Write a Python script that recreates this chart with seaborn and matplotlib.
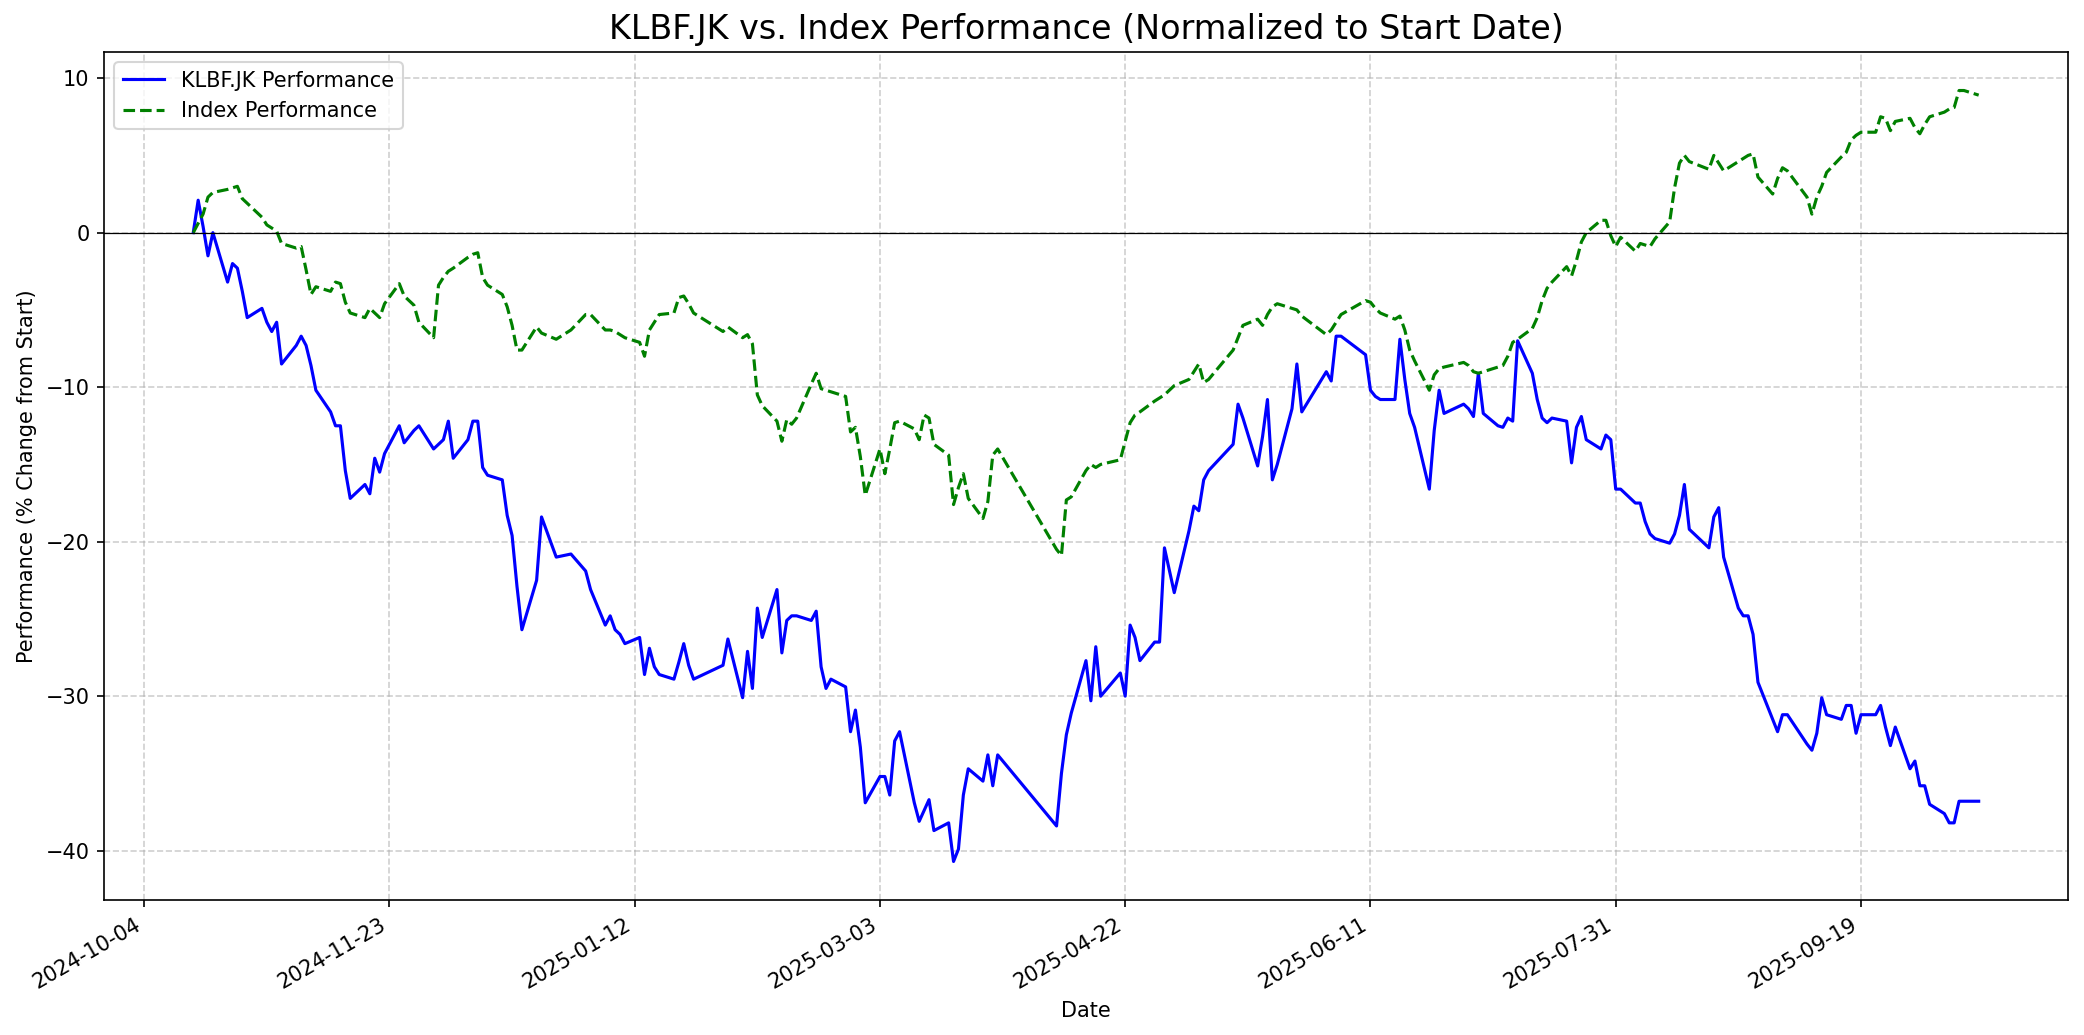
import pandas as pd
import numpy as np
import matplotlib
matplotlib.use('Agg')
import matplotlib.pyplot as plt
import matplotlib.dates as mdates
import seaborn as sns

# trading days
dates = [
    '2024-10-14', '2024-10-15', '2024-10-16', '2024-10-17', '2024-10-18',
    '2024-10-21', '2024-10-22', '2024-10-23', '2024-10-24', '2024-10-25',
    '2024-10-28', '2024-10-29', '2024-10-30', '2024-10-31', '2024-11-01',
    '2024-11-04', '2024-11-05', '2024-11-06', '2024-11-07', '2024-11-08',
    '2024-11-11', '2024-11-12', '2024-11-13', '2024-11-14', '2024-11-15',
    '2024-11-18', '2024-11-19', '2024-11-20', '2024-11-21', '2024-11-22',
    '2024-11-25', '2024-11-26', '2024-11-28', '2024-11-29', '2024-12-02',
    '2024-12-03', '2024-12-04', '2024-12-05', '2024-12-06', '2024-12-09',
    '2024-12-10', '2024-12-11', '2024-12-12', '2024-12-13', '2024-12-16',
    '2024-12-17', '2024-12-18', '2024-12-19', '2024-12-20', '2024-12-23',
    '2024-12-24', '2024-12-27', '2024-12-30', '2025-01-02', '2025-01-03',
    '2025-01-06', '2025-01-07', '2025-01-08', '2025-01-09', '2025-01-10',
    '2025-01-13', '2025-01-14', '2025-01-15', '2025-01-16', '2025-01-17',
    '2025-01-20', '2025-01-21', '2025-01-22', '2025-01-23', '2025-01-24',
    '2025-01-30', '2025-01-31', '2025-02-03', '2025-02-04', '2025-02-05',
    '2025-02-06', '2025-02-07', '2025-02-10', '2025-02-11', '2025-02-12',
    '2025-02-13', '2025-02-14', '2025-02-17', '2025-02-18', '2025-02-19',
    '2025-02-20', '2025-02-21', '2025-02-24', '2025-02-25', '2025-02-26',
    '2025-02-27', '2025-02-28', '2025-03-03', '2025-03-04', '2025-03-05',
    '2025-03-06', '2025-03-07', '2025-03-10', '2025-03-11', '2025-03-12',
    '2025-03-13', '2025-03-14', '2025-03-17', '2025-03-18', '2025-03-19',
    '2025-03-20', '2025-03-21', '2025-03-24', '2025-03-25', '2025-03-26',
    '2025-03-27', '2025-04-08', '2025-04-09', '2025-04-10', '2025-04-11',
    '2025-04-14', '2025-04-15', '2025-04-16', '2025-04-17', '2025-04-21',
    '2025-04-22', '2025-04-23', '2025-04-24', '2025-04-25', '2025-04-28',
    '2025-04-29', '2025-04-30', '2025-05-02', '2025-05-05', '2025-05-06',
    '2025-05-07', '2025-05-08', '2025-05-09', '2025-05-14', '2025-05-15',
    '2025-05-16', '2025-05-19', '2025-05-20', '2025-05-21', '2025-05-22',
    '2025-05-23', '2025-05-26', '2025-05-27', '2025-05-28', '2025-06-02',
    '2025-06-03', '2025-06-04', '2025-06-05', '2025-06-10', '2025-06-11',
    '2025-06-12', '2025-06-13', '2025-06-16', '2025-06-17', '2025-06-18',
    '2025-06-19', '2025-06-20', '2025-06-23', '2025-06-24', '2025-06-25',
    '2025-06-26', '2025-06-30', '2025-07-01', '2025-07-02', '2025-07-03',
    '2025-07-04', '2025-07-07', '2025-07-08', '2025-07-09', '2025-07-10',
    '2025-07-11', '2025-07-14', '2025-07-15', '2025-07-16', '2025-07-17',
    '2025-07-18', '2025-07-21', '2025-07-22', '2025-07-23', '2025-07-24',
    '2025-07-25', '2025-07-28', '2025-07-29', '2025-07-30', '2025-07-31',
    '2025-08-01', '2025-08-04', '2025-08-05', '2025-08-06', '2025-08-07',
    '2025-08-08', '2025-08-11', '2025-08-12', '2025-08-13', '2025-08-14',
    '2025-08-15', '2025-08-19', '2025-08-20', '2025-08-21', '2025-08-22',
    '2025-08-25', '2025-08-26', '2025-08-27', '2025-08-28', '2025-08-29',
    '2025-09-01', '2025-09-02', '2025-09-03', '2025-09-04', '2025-09-08',
    '2025-09-09', '2025-09-10', '2025-09-11', '2025-09-12', '2025-09-15',
    '2025-09-16', '2025-09-17', '2025-09-18', '2025-09-19', '2025-09-22',
    '2025-09-23', '2025-09-24', '2025-09-25', '2025-09-26', '2025-09-29',
    '2025-09-30', '2025-10-01', '2025-10-02', '2025-10-03', '2025-10-06',
    '2025-10-07', '2025-10-08', '2025-10-09', '2025-10-10', '2025-10-13',
]

# KLBF.JK % change from start
klbf_perf = [
    0.0, 2.1, 0.4, -1.5, 0.0,
    -3.2, -2.0, -2.3, -3.8, -5.5,
    -4.9, -5.8, -6.4, -5.8, -8.5,
    -7.3, -6.7, -7.3, -8.6, -10.2,
    -11.6, -12.5, -12.5, -15.4, -17.2,
    -16.3, -16.9, -14.6, -15.5, -14.3,
    -12.5, -13.6, -12.8, -12.5, -14.0,
    -13.7, -13.4, -12.2, -14.6, -13.4,
    -12.2, -12.2, -15.2, -15.7, -16.0,
    -18.3, -19.6, -22.9, -25.7, -22.5,
    -18.4, -21.0, -20.8, -21.9, -23.1,
    -25.4, -24.8, -25.7, -26.0, -26.6,
    -26.2, -28.6, -26.9, -28.1, -28.6,
    -28.9, -27.8, -26.6, -28.0, -28.9,
    -28.0, -26.3, -30.1, -27.1, -29.5,
    -24.3, -26.2, -23.1, -27.2, -25.1,
    -24.8, -24.8, -25.1, -24.5, -28.1,
    -29.5, -28.9, -29.4, -32.3, -30.9,
    -33.3, -36.9, -35.2, -35.2, -36.4,
    -32.9, -32.3, -36.9, -38.1, -37.4,
    -36.7, -38.7, -38.2, -40.7, -39.9,
    -36.4, -34.7, -35.5, -33.8, -35.8,
    -33.8, -38.4, -35.0, -32.5, -31.1,
    -27.7, -30.3, -26.8, -30.0, -28.5,
    -30.0, -25.4, -26.2, -27.7, -26.5,
    -26.5, -20.4, -23.3, -19.3, -17.7,
    -18.0, -16.0, -15.4, -13.7, -11.1,
    -12.0, -15.1, -13.2, -10.8, -16.0,
    -15.0, -11.4, -8.5, -11.6, -9.0,
    -9.6, -6.7, -6.7, -7.9, -10.2,
    -10.6, -10.8, -10.8, -6.9, -9.5,
    -11.7, -12.6, -16.6, -12.8, -10.2,
    -11.7, -11.1, -11.4, -11.9, -9.1,
    -11.7, -12.5, -12.6, -12.0, -12.2,
    -7.0, -9.1, -10.8, -12.0, -12.3,
    -12.0, -12.2, -14.9, -12.6, -11.9,
    -13.4, -14.0, -13.1, -13.4, -16.6,
    -16.6, -17.5, -17.5, -18.7, -19.5,
    -19.8, -20.1, -19.5, -18.3, -16.3,
    -19.2, -20.4, -18.4, -17.8, -21.0,
    -24.3, -24.8, -24.8, -26.0, -29.1,
    -31.5, -32.3, -31.2, -31.2, -33.1,
    -33.5, -32.4, -30.1, -31.2, -31.5,
    -30.6, -30.6, -32.4, -31.2, -31.2,
    -30.6, -32.0, -33.2, -32.0, -34.7,
    -34.2, -35.8, -35.8, -37.0, -37.6,
    -38.2, -38.2, -36.8, -36.8, -36.8,
]

# index % change from start
index_perf = [
    0.0, 0.6, 1.2, 2.3, 2.6,
    2.8, 2.9, 3.0, 2.2, 1.9,
    1.0, 0.5, 0.3, 0.1, -0.7,
    -1.0, -0.9, -2.4, -4.0, -3.5,
    -3.8, -3.2, -3.3, -4.5, -5.2,
    -5.5, -4.9, -5.2, -5.5, -4.6,
    -3.3, -4.1, -4.7, -5.8, -6.8,
    -3.4, -2.9, -2.5, -2.3, -1.6,
    -1.4, -1.3, -2.9, -3.4, -4.0,
    -4.8, -6.0, -7.6, -7.6, -6.1,
    -6.5, -6.9, -6.3, -5.3, -5.3,
    -6.3, -6.3, -6.4, -6.6, -6.8,
    -7.1, -8.0, -6.3, -5.8, -5.3,
    -5.2, -4.2, -4.1, -4.6, -5.2,
    -6.4, -6.1, -6.8, -6.6, -7.2,
    -10.5, -11.2, -12.2, -13.5, -12.1,
    -12.4, -12.0, -9.8, -9.1, -10.1,
    -10.2, -10.3, -10.6, -12.9, -12.6,
    -14.5, -17.0, -14.0, -15.6, -14.0,
    -12.3, -12.2, -12.7, -13.4, -11.8,
    -12.0, -13.7, -14.4, -17.6, -16.5,
    -15.6, -17.2, -18.5, -17.4, -14.4,
    -14.0, -20.5, -20.9, -17.3, -17.1,
    -15.4, -15.0, -15.2, -15.0, -14.7,
    -13.5, -12.3, -11.8, -11.6, -10.9,
    -10.7, -10.5, -9.9, -9.5, -9.0,
    -8.5, -9.7, -9.5, -7.6, -6.8,
    -6.0, -5.6, -6.0, -5.3, -4.8,
    -4.6, -4.9, -5.0, -5.4, -6.6,
    -6.3, -5.8, -5.3, -4.4, -4.5,
    -4.9, -5.2, -5.6, -5.4, -6.3,
    -7.6, -8.3, -10.2, -9.2, -8.8,
    -8.7, -8.4, -8.6, -9.0, -9.1,
    -9.0, -8.7, -8.6, -8.0, -7.1,
    -6.9, -6.2, -5.5, -4.4, -3.6,
    -3.2, -2.2, -2.8, -1.8, -0.6,
    0.0, 0.8, 0.8, -0.2, -0.9,
    -0.3, -1.2, -0.7, -0.8, -0.9,
    -0.4, 0.7, 2.9, 4.5, 5.0,
    4.6, 4.1, 5.0, 4.5, 4.0,
    4.6, 4.8, 5.0, 5.1, 3.6,
    2.5, 3.5, 4.2, 4.0, 2.3,
    1.2, 2.3, 3.0, 3.9, 4.9,
    5.2, 6.0, 6.3, 6.5, 6.5,
    7.5, 7.4, 6.6, 7.2, 7.4,
    6.8, 6.4, 7.0, 7.5, 7.8,
    8.0, 8.1, 9.2, 9.2, 8.9,
]

tick_dates = ['2024-10-04', '2024-11-23', '2025-01-12', '2025-03-03',
              '2025-04-22', '2025-06-11', '2025-07-31', '2025-09-19']

df = pd.DataFrame({'Date': pd.to_datetime(dates),
                   'KLBF': klbf_perf,
                   'Index': index_perf})

fig, ax = plt.subplots(figsize=(2084 / 150, 1035 / 150), dpi=150)
fig.subplots_adjust(left=0.0499, right=0.9923, top=0.9498, bottom=0.1304)

sns.lineplot(data=df, x='Date', y='KLBF', color='blue', linewidth=1.5,
             label='KLBF.JK Performance', ax=ax)
sns.lineplot(data=df, x='Date', y='Index', color='green', linewidth=1.5,
             linestyle='--', label='Index Performance', ax=ax)

ax.axhline(0, color='black', linewidth=0.6)
ax.grid(True, linestyle='--', alpha=0.6)

ax.set_xticks(pd.to_datetime(tick_dates))
ax.xaxis.set_major_formatter(mdates.DateFormatter('%Y-%m-%d'))
plt.setp(ax.get_xticklabels(), rotation=30, ha='right')

ax.set_title('KLBF.JK vs. Index Performance (Normalized to Start Date)', fontsize=16)
ax.set_xlabel('Date')
ax.set_ylabel('Performance (% Change from Start)')
ax.legend(loc='upper left')

fig.savefig('out.png', dpi=150)
